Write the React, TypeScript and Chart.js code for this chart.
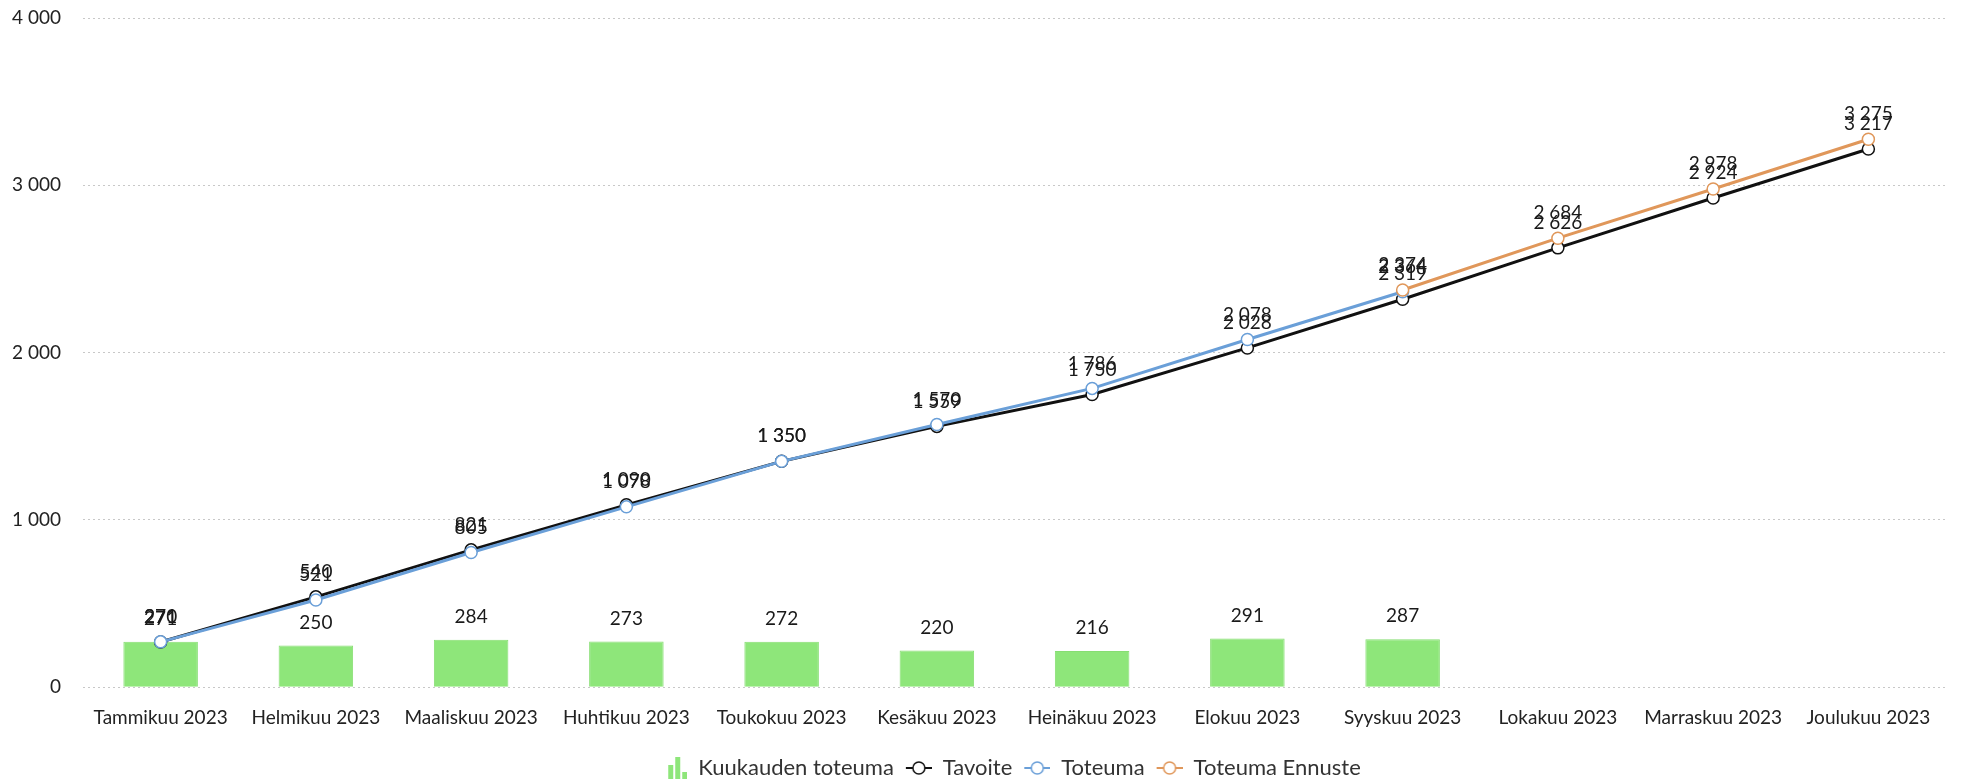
import React, { useEffect, useRef } from "react";
import { Chart, registerables } from "chart.js";

Chart.register(...registerables);

const categories = [
  "Tammikuu 2023", "Helmikuu 2023", "Maaliskuu 2023", "Huhtikuu 2023",
  "Toukokuu 2023", "Kesäkuu 2023", "Heinäkuu 2023", "Elokuu 2023",
  "Syyskuu 2023", "Lokakuu 2023", "Marraskuu 2023", "Joulukuu 2023",
];
const monthly = [271, 250, 284, 273, 272, 220, 216, 291, 287, null, null, null];
const target = [270, 540, 821, 1090, 1350, 1559, 1750, 2028, 2319, 2626, 2924, 3217];
const actual = [271, 521, 805, 1078, 1350, 1570, 1786, 2078, 2364, null, null, null];
const forecast = [null, null, null, null, null, null, null, null, 2374, 2684, 2978, 3275];
const yTicks = [0, 1000, 2000, 3000, 4000];

const FONT = "Lato, 'Noto Sans', sans-serif";
const GREEN = "#8ee67a";
const BLACK = "#111111";
const BLUE = "#6a9fd8";
const ORANGE = "#e0975a";
const ICON_W = 36;

const fmt = (v: number) => {
  const s = Math.round(v).toString();
  return s.replace(/\B(?=(\d{3})+(?!\d))/g, " ");
};

function barIcon(): HTMLCanvasElement {
  const c = document.createElement("canvas");
  c.width = ICON_W; c.height = 22;
  const g = c.getContext("2d")!;
  g.fillStyle = GREEN;
  const x0 = ICON_W - 20;
  g.fillRect(x0 + 1, 8, 5, 14);
  g.fillRect(x0 + 8, 0, 5, 22);
  g.fillRect(x0 + 15, 15, 5, 7);
  return c;
}
function lineIcon(color: string): HTMLCanvasElement {
  const c = document.createElement("canvas");
  c.width = ICON_W; c.height = 16;
  const g = c.getContext("2d")!;
  const x0 = ICON_W - 26;
  g.strokeStyle = color;
  g.lineWidth = 2;
  g.beginPath(); g.moveTo(x0, 8); g.lineTo(x0 + 26, 8); g.stroke();
  g.fillStyle = "#fff";
  g.lineWidth = 1.5;
  g.beginPath(); g.arc(x0 + 13, 8, 6, 0, Math.PI * 2); g.fill(); g.stroke();
  return c;
}

const labelPlugin = {
  id: "valueLabels",
  afterLayout(chart: any) {
    if (chart.legend) {
      chart.legend.left += 33;
      chart.legend.right += 33;
      chart.legend.top += 6;
      chart.legend.bottom += 6;
    }
  },
  afterDatasetsDraw(chart: any) {
    const ctx = chart.ctx;
    ctx.save();
    ctx.font = `19px ${FONT}`;
    ctx.fillStyle = "#1a1a1a";
    ctx.textAlign = "center";
    ctx.textBaseline = "middle";
    chart.data.datasets.forEach((ds: any, i: number) => {
      const meta = chart.getDatasetMeta(i);
      meta.data.forEach((el: any, j: number) => {
        const v = ds.data[j];
        if (v === null || v === undefined) return;
        const off = ds.type === "bar" ? 23 : 25;
        ctx.fillText(fmt(v), el.x, el.y - off);
      });
    });
    ctx.restore();
  },
};

export default function App() {
  const ref = useRef<HTMLCanvasElement>(null);
  useEffect(() => {
    const icons = [barIcon(), lineIcon(BLACK), lineIcon(BLUE), lineIcon(ORANGE)];
    const lineCommon = {
      type: "line" as const,
      borderWidth: 3,
      pointRadius: 6,
      pointHoverRadius: 6,
      pointBackgroundColor: "#ffffff",
      pointBorderWidth: 1.5,
      tension: 0,
      spanGaps: false,
    };
    const chart = new Chart(ref.current!, {
      type: "bar",
      data: {
        labels: categories,
        datasets: [
          {
            type: "bar",
            label: "Kuukauden toteuma",
            data: monthly,
            backgroundColor: GREEN,
            borderColor: "#86de72",
            borderWidth: 1,
            categoryPercentage: 0.8,
            barPercentage: 0.6,
            order: 4,
          } as any,
          { ...lineCommon, label: "Tavoite", data: target, borderColor: BLACK, pointBorderColor: BLACK, order: 3 },
          { ...lineCommon, label: "Toteuma", data: actual, borderColor: BLUE, pointBorderColor: BLUE, order: 2 },
          { ...lineCommon, label: "Toteuma Ennuste", data: forecast, borderColor: ORANGE, pointBorderColor: ORANGE, order: 1 },
        ],
      },
      options: {
        animation: false,
        responsive: true,
        maintainAspectRatio: false,
        layout: { padding: { top: 18, right: 20, left: 0, bottom: 0 } },
        plugins: {
          tooltip: { enabled: false },
          legend: {
            position: "bottom",
            labels: {
              usePointStyle: true,
              pointStyleWidth: ICON_W,
              padding: 2,
              color: "#333",
              font: { family: FONT, size: 22 },
              generateLabels: (ch: any) =>
                ch.data.datasets.map((ds: any, i: number) => ({
                  text: ds.label,
                  pointStyle: icons[i],
                  fillStyle: "transparent",
                  strokeStyle: "transparent",
                  lineWidth: 0,
                  hidden: false,
                  datasetIndex: i,
                  fontColor: "#333",
                })),
            },
          },
        },
        scales: {
          x: {
            offset: true,
            grid: { display: false },
            border: { display: false },
            afterFit: (s: any) => { s.height += 9; },
            ticks: { color: "#222", padding: 11, font: { family: FONT, size: 19 }, maxRotation: 0, autoSkip: false },
          },
          y: {
            min: 0,
            max: 4000,
            afterFit: (s: any) => { s.width = 83; s.paddingTop = 0; s.paddingBottom = 0; },
            afterBuildTicks: (s: any) => { s.ticks = yTicks.map((v) => ({ value: v })); },
            grid: { color: "#c8c8c8", lineWidth: 1, drawTicks: false },
            border: { display: false, dash: [2, 3] },
            ticks: {
              color: "#222",
              padding: 22,
              font: { family: FONT, size: 19 },
              callback: (v: any) => fmt(Number(v)),
            },
          },
        },
      },
      plugins: [labelPlugin],
    });
    return () => chart.destroy();
  }, []);
  return (
    <div style={{ position: "fixed", left: 0, top: 0, width: 1966, height: 783, background: "#fff" }}>
      <canvas ref={ref} />
    </div>
  );
}
